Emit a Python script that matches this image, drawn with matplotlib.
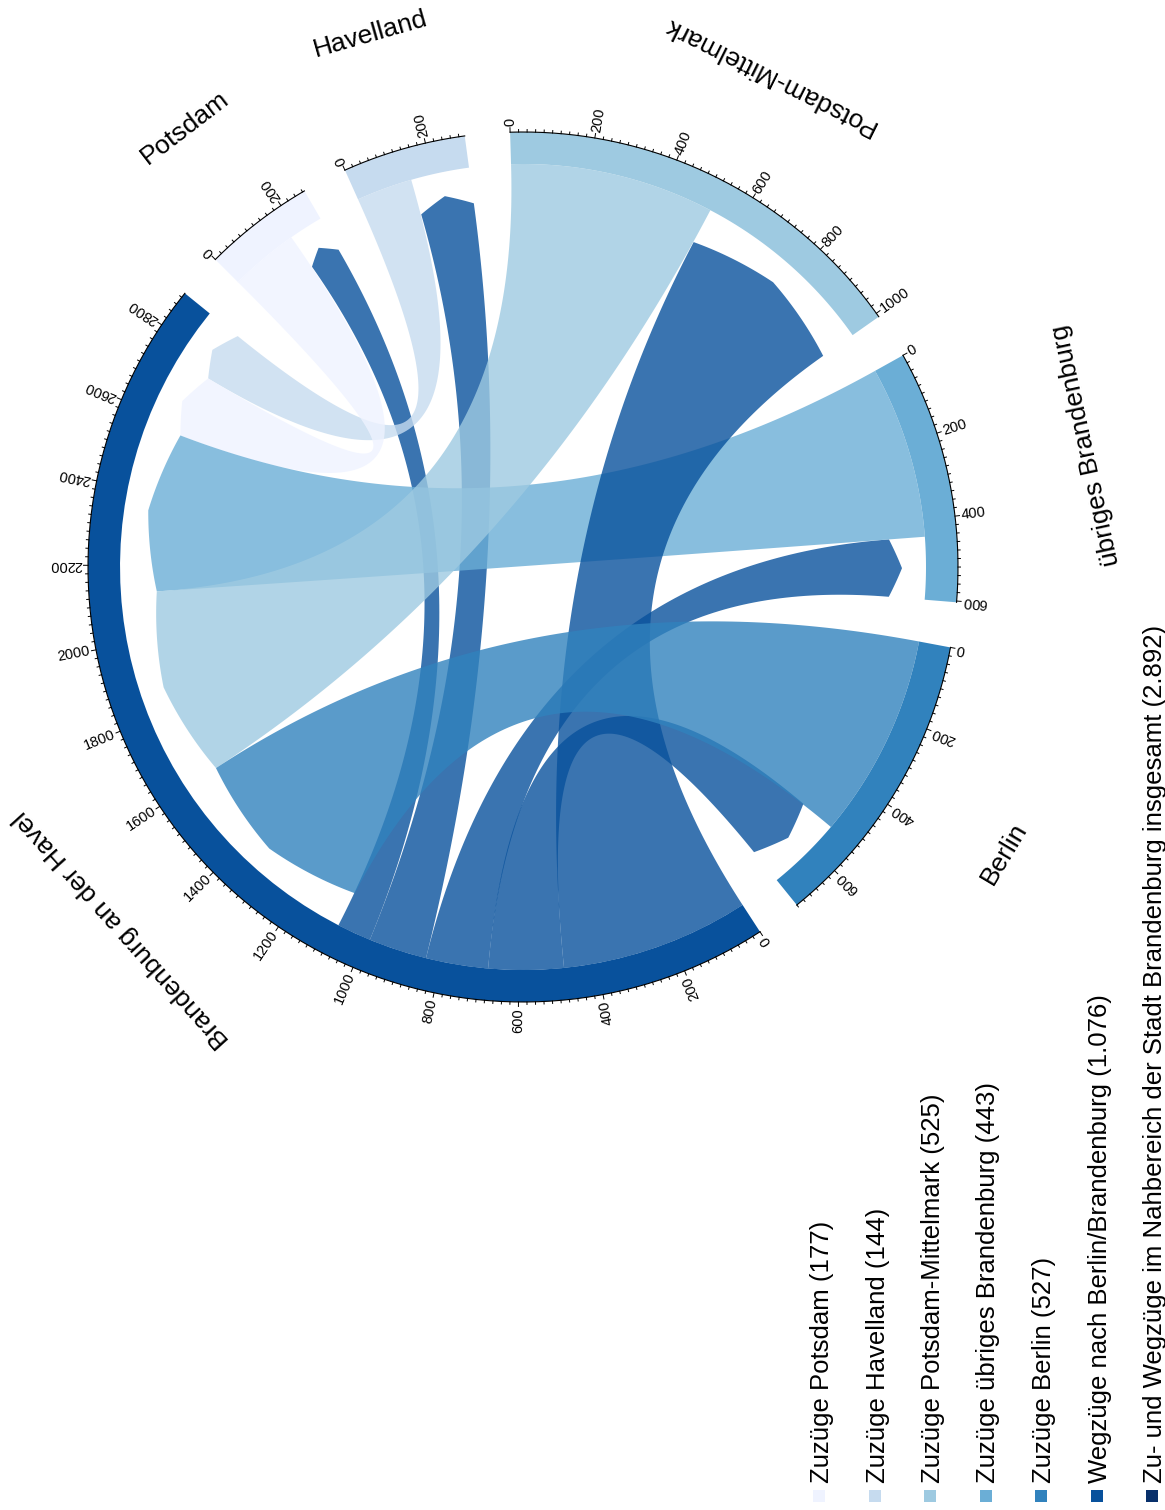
import numpy as np
import matplotlib
matplotlib.use("Agg")
import matplotlib.pyplot as plt
from matplotlib.patches import Polygon, Rectangle

plt.rcParams['font.family'] = ['Liberation Sans', 'DejaVu Sans']

# ---------------- data ----------------
regions = ["Potsdam", "Havelland", "Potsdam-Mittelmark", "übriges Brandenburg", "Berlin"]
zuzuege = [177, 144, 525, 443, 527]      # moves into Brandenburg an der Havel
wegzuege = [88, 150, 485, 160, 193]      # moves out of Brandenburg an der Havel
hub_name = "Brandenburg an der Havel"
region_colors = ["#eff3ff", "#c6dbef", "#9ecae1", "#6baed6", "#3182bd"]
hub_color = "#08519c"
total_color = "#08306b"
legend_labels = ["Zuzüge Potsdam (177)", "Zuzüge Havelland (144)",
                 "Zuzüge Potsdam-Mittelmark (525)", "Zuzüge übriges Brandenburg (443)",
                 "Zuzüge Berlin (527)", "Wegzüge nach Berlin/Brandenburg (1.076)",
                 "Zu- und Wegzüge im Nahbereich der Stadt Brandenburg insgesamt (2.892)"]
major_step = 200
minor_step = 20

# ---------------- layout ----------------
W, H = 1165, 1510
fig = plt.figure(figsize=(W / 100, H / 100), dpi=100)
ax = fig.add_axes([0, 0, 1, 1])
ax.set_xlim(0, W)
ax.set_ylim(H, 0)
ax.axis('off')

cx, cy = 523.0, 567.0
R_AX, R_IN, R_BASE, R_TIP = 435.0, 403.0, 367.0, 379.0
START, GAP = 91.7, 6.0
ALPHA = 0.8

circle_order = [2, 3, 4, -1, 0, 1]   # clockwise, -1 = hub
out_order = [2, 4, 3, 1, 0]          # order of outgoing links inside hub sector
in_order = [4, 2, 3, 0, 1]           # order of incoming links inside hub sector
label_r = {2: 549, 3: 576, 4: 560, -1: 541, 0: 555, 1: 554}

sizes = {i: zuzuege[i] + wegzuege[i] for i in range(len(regions))}
sizes[-1] = sum(zuzuege) + sum(wegzuege)
units = sum(sizes.values())
scale = (360.0 - GAP * len(circle_order)) / units

sec_start = {}
a = START
for k in circle_order:
    sec_start[k] = a
    a -= sizes[k] * scale + GAP


def th(k, v):
    return sec_start[k] - v * scale


def P(t, r):
    return np.array([cx + r * np.cos(np.radians(t)), cy - r * np.sin(np.radians(t))])


def arc(t1, t2, r, n=60):
    return np.array([P(t, r) for t in np.linspace(t1, t2, n)])


def arrow(t1, t2, n=20):
    m = (t1 + t2) / 2
    s1 = [P(t, R_BASE + (R_TIP - R_BASE) * (t - t1) / (m - t1)) for t in np.linspace(t1, m, n)]
    s2 = [P(t, R_BASE + (R_TIP - R_BASE) * (t2 - t) / (t2 - m)) for t in np.linspace(m, t2, n)]
    return np.array(s1 + s2)


def bez(p0, p2, n=100):
    t = np.linspace(0, 1, n)[:, None]
    c = np.array([cx, cy])
    return (1 - t) ** 2 * p0 + 2 * (1 - t) * t * c + t ** 2 * p2


# links
links = []
off = 0
for i in out_order:
    links.append((wegzuege[i], hub_color, -1, off, off + wegzuege[i], i, zuzuege[i], zuzuege[i] + wegzuege[i]))
    off += wegzuege[i]
for i in in_order:
    links.append((zuzuege[i], region_colors[i], i, 0, zuzuege[i], -1, off, off + zuzuege[i]))
    off += zuzuege[i]
links.sort(key=lambda l: l[0])

for val, col, sk, s0, s1, dk, d0, d1 in links:
    ta1, tb1 = th(sk, s0), th(sk, s1)
    ta2, tb2 = th(dk, d0), th(dk, d1)
    pts = np.vstack([
        arc(ta1, tb1, R_IN),
        bez(P(tb1, R_IN), P(ta2, R_BASE)),
        arrow(ta2, tb2),
        bez(P(tb2, R_BASE), P(ta1, R_IN)),
    ])
    ax.add_patch(Polygon(pts, closed=True, facecolor=col, edgecolor='none', alpha=ALPHA, zorder=2))

# tracks, axes, labels
names = {i: regions[i] for i in range(len(regions))}
names[-1] = hub_name
colors = {i: region_colors[i] for i in range(len(regions))}
colors[-1] = hub_color

for k in circle_order:
    t0, t1 = th(k, 0), th(k, sizes[k])
    ring = np.vstack([arc(t0, t1, R_AX), arc(t1, t0, R_IN)])
    ax.add_patch(Polygon(ring, closed=True, facecolor=colors[k], edgecolor='none', zorder=3))
    line = arc(t0, t1, R_AX, 200)
    ax.plot(line[:, 0], line[:, 1], color='black', lw=0.8, zorder=4)
    for v in range(0, sizes[k] + 1, minor_step):
        t = th(k, v)
        major = (v % major_step == 0)
        L = 4.5 if major else 2.5
        p, q = P(t, R_AX), P(t, R_AX + L)
        ax.plot([p[0], q[0]], [p[1], q[1]], color='black', lw=0.7, zorder=4)
        if major:
            flip = np.sin(np.radians(t)) < 0
            pos = P(t, R_AX + 6)
            ax.text(pos[0], pos[1], str(v), rotation=(t + 180 if flip else t) % 360,
                    rotation_mode='anchor', ha='right' if flip else 'left', va='center',
                    fontsize=10.5, zorder=5)
    tm = (t0 + t1) / 2
    flip = np.cos(np.radians(tm)) > 0
    pos = P(tm, label_r[k])
    ax.text(pos[0], pos[1], names[k], rotation=(tm + 90 if flip else tm - 90) % 360,
            rotation_mode='anchor', ha='center', va='center', fontsize=19, zorder=5)

# legend (rotated)
leg_colors = region_colors + [hub_color, total_color]
for j, (lab, col) in enumerate(zip(legend_labels, leg_colors)):
    x = 829 + j * 55.5
    ax.add_patch(Rectangle((x - 16, 1490), 12, 12, facecolor=col, edgecolor='none'))
    ax.text(x, 1483, lab, rotation=90, rotation_mode='anchor', ha='left', va='baseline',
            fontsize=18.5)

fig.savefig("out.png", dpi=100)
